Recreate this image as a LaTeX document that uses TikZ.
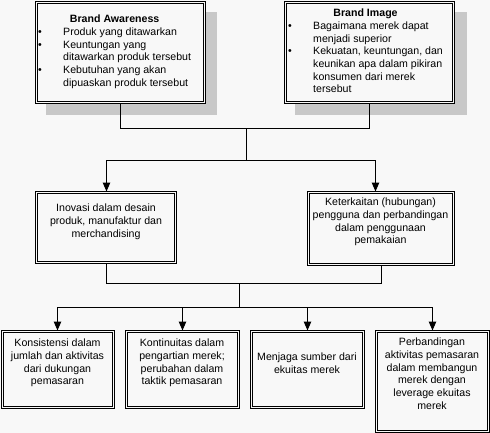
\documentclass[tikz,border=0pt]{standalone}
\usepackage{fontspec}
\setmainfont{Liberation Sans}
\usetikzlibrary{arrows.meta,calc}
\definecolor{bgc}{RGB}{248,248,248}
\definecolor{shadowc}{RGB}{200,200,200}
\begin{document}
\begin{tikzpicture}[x=1pt,y=-1pt,
  box/.style={draw=black,line width=1pt,fill=bgc,rectangle,inner sep=0pt,outer sep=0pt},
  innerline/.style={draw=black,line width=1pt},
  txt/.style={inner sep=0pt,font=\fontsize{10.6}{12.7}\selectfont,text=black},
  conn/.style={line width=1pt,draw=black},
  arr/.style={conn,-{Triangle[width=7.5pt,length=9pt]}}
]
\fill[bgc] (0,0) rectangle (490,433);
\useasboundingbox (0,0) rectangle (490,433);

% shadows
\fill[shadowc] (46,12) rectangle (217,115);
\fill[shadowc] (295,12) rectangle (467,115);

% boxes
\node[box,minimum width=170pt,minimum height=102pt] (A) at (120.5,52.5) {};
\node[box,minimum width=170pt,minimum height=102pt] (B) at (369.5,52.5) {};
\node[box,minimum width=141pt,minimum height=72pt] (C) at (106,227.5) {};
\node[box,minimum width=147pt,minimum height=74pt] (D) at (381,228.5) {};
\node[box,minimum width=113pt,minimum height=78pt] (E1) at (58,369.5) {};
\node[box,minimum width=114pt,minimum height=78pt] (E2) at (182.5,369.5) {};
\node[box,minimum width=114pt,minimum height=78pt] (E3) at (307.5,369.5) {};
\node[box,minimum width=114pt,minimum height=102pt] (E4) at (432.5,381.5) {};
\foreach \n in {A,B,C,D,E1,E2,E3,E4}
  \draw[innerline] ([shift={(2,2)}]\n.north west) rectangle ([shift={(-2,-2)}]\n.south east);

% texts
\node[txt,anchor=north west] (tA) at (38,13.6) {\begin{tabular}{@{}p{25pt}@{}l@{}}
\multicolumn{2}{c}{\textbf{Brand Awareness}}\\
\textbullet & Produk yang ditawarkan\\
\textbullet & Keuntungan yang\\
 & ditawarkan produk tersebut\\
\textbullet & Kebutuhan yang akan\\
 & dipuaskan produk tersebut
\end{tabular}};
\node[txt,anchor=north west] (tB) at (288,7.6) {\begin{tabular}{@{}p{25pt}@{}l@{}}
\multicolumn{2}{c}{\textbf{Brand Image}}\\
\textbullet & Bagaimana merek dapat\\
 & menjadi superior\\
\textbullet & Kekuatan, keuntungan, dan\\
 & keunikan apa dalam pikiran\\
 & konsumen dari merek\\
 & tersebut
\end{tabular}};
\node[txt,anchor=north] (tC) at (106,202.6) {\begin{tabular}{@{}c@{}}
Inovasi dalam desain\\ produk, manufaktur dan\\ merchandising\end{tabular}};
\node[txt,anchor=north] (tD) at (380.5,196.6) {\begin{tabular}{@{}c@{}}
Keterkaitan (hubungan)\\ pengguna dan perbandingan\\ dalam penggunaan\\ pemakaian\end{tabular}};
\node[txt,anchor=north] (tE1) at (57.5,337.6) {\begin{tabular}{@{}c@{}}
Konsistensi dalam\\ jumlah dan aktivitas\\ dari dukungan\\ pemasaran\end{tabular}};
\node[txt,anchor=north] (tE2) at (182,337.6) {\begin{tabular}{@{}c@{}}
Kontinuitas dalam\\ pengartian merek;\\ perubahan dalam\\ taktik pemasaran\end{tabular}};
\node[txt,anchor=north] (tE3) at (307,351.6) {\begin{tabular}{@{}c@{}}
Menjaga sumber dari\\ ekuitas merek\end{tabular}};
\node[txt,anchor=north] (tE4) at (432,336.6) {\begin{tabular}{@{}c@{}}
Perbandingan\\ aktivitas pemasaran\\ dalam membangun\\ merek dengan\\ leverage ekuitas\\ merek\end{tabular}};

% junctions
\coordinate (j1) at (246.5,128.5);
\coordinate (j2) at (246.5,160.5);
\coordinate (j3) at (239.5,283.5);
\coordinate (j4) at (239.5,307.5);

% connectors
\draw[conn] (A.south) |- (j1) -| (B.south);
\draw[conn] (j1) -- (j2);
\draw[arr] (j2) -| ([xshift=0.5pt]C.north);
\draw[arr] (j2) -| ([xshift=-5.5pt]D.north);
\draw[conn] ([xshift=0.5pt]C.south) |- (j3);
\draw[conn] ([xshift=0.5pt]D.south) |- (j3);
\draw[conn] (j3) -- (j4);
\draw[arr] (j4) -| ([xshift=-0.5pt]E1.north);
\draw[arr] (j4) -| (E2.north);
\draw[arr] (j4) -| (E3.north);
\draw[arr] (j4) -| (E4.north);
\end{tikzpicture}
\end{document}
